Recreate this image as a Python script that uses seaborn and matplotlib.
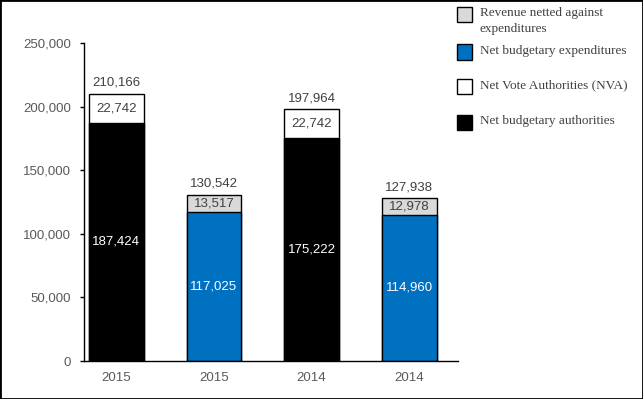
import numpy as np
import pandas as pd
import matplotlib
matplotlib.use('Agg')
import matplotlib.pyplot as plt
import seaborn as sns
from matplotlib.patches import Rectangle

# values
year_labels = ['2015', '2015', '2014', '2014']
bottom_vals = [187424, 117025, 175222, 114960]
top_vals = [22742, 13517, 22742, 12978]
totals = [210166, 130542, 197964, 127938]
bottom_colors = ['#000000', '#0070C0', '#000000', '#0070C0']
top_colors = ['#FFFFFF', '#D9D9D9', '#FFFFFF', '#D9D9D9']
legend_labels = ['Revenue netted against\nexpenditures', 'Net budgetary expenditures',
                 'Net Vote Authorities (NVA)', 'Net budgetary authorities']
legend_colors = ['#D9D9D9', '#0070C0', '#FFFFFF', '#000000']

sns.set_style('white')
plt.rcParams['font.family'] = ['Liberation Sans', 'DejaVu Sans']

df = pd.DataFrame({'bar': ['a', 'b', 'c', 'd'], 'bottom': bottom_vals,
                   'top': top_vals, 'total': totals})

W, H = 643, 399
fig = plt.figure(figsize=(W / 100, H / 100), dpi=100)
ax = fig.add_axes([84 / W, 38 / H, (458 - 84) / W, (361 - 43) / H])

# full stack height first, then the bottom part over it
sns.barplot(data=df, x='bar', y='total', hue='bar', palette=top_colors, legend=False,
            width=0.56, edgecolor='black', linewidth=1, saturation=1, ax=ax)
sns.barplot(data=df, x='bar', y='bottom', hue='bar', palette=bottom_colors, legend=False,
            width=0.56, edgecolor='black', linewidth=1, saturation=1, ax=ax)

gray = '#595959'
txt = '#404040'
fs = 9.5
for i in range(len(df)):
    b = bottom_vals[i]
    t = top_vals[i]
    ax.text(i, b / 2, f'{b:,}', ha='center', va='center', color='white', fontsize=fs)
    ax.text(i, b + t / 2, f'{t:,}', ha='center', va='center', color=txt, fontsize=fs)
    ax.text(i, totals[i] + 4000, f'{totals[i]:,}', ha='center', va='bottom',
            color=txt, fontsize=fs)

ax.set_xlim(-0.33, 3.5)
ax.set_ylim(0, 250000)
ax.set_yticks(np.arange(0, 250001, 50000))
ax.set_yticklabels([f'{v:,}' for v in np.arange(0, 250001, 50000)])
ax.set_xticks(range(4))
ax.set_xticklabels(year_labels)
ax.set_xticks([0.5, 1.5, 2.5, 3.5], minor=True)
ax.tick_params(axis='x', which='major', length=0, pad=8, labelsize=fs, labelcolor=gray)
ax.tick_params(axis='x', which='minor', direction='in', length=4, width=1, color='black')
ax.tick_params(axis='y', direction='out', length=3, width=1, color='black',
               left=True, pad=6.5, labelsize=fs, labelcolor=gray)
ax.set_xlabel('')
ax.set_ylabel('')
sns.despine(ax=ax, top=True, right=True)
for s in ['left', 'bottom']:
    ax.spines[s].set_color('black')
    ax.spines[s].set_linewidth(1)

# legend drawn by hand so the swatch sits on the first line of each label
swatch_y = [14, 52, 86, 122]
for lab, col, yc in zip(legend_labels, legend_colors, swatch_y):
    fig.add_artist(Rectangle((457 / W, 1 - (yc + 7.5) / H), 15 / W, 15 / H,
                             transform=fig.transFigure, facecolor=col,
                             edgecolor='black', linewidth=1))
    fig.text(480 / W, 1 - (yc - 7) / H, lab, ha='left', va='top', color='#404040',
             family='Liberation Serif', fontsize=9.5, linespacing=1.45)

fig.patches.append(Rectangle((0, 0), 1, 1, transform=fig.transFigure, fill=False,
                             edgecolor='black', linewidth=2))

fig.savefig('out.png', dpi=100)
